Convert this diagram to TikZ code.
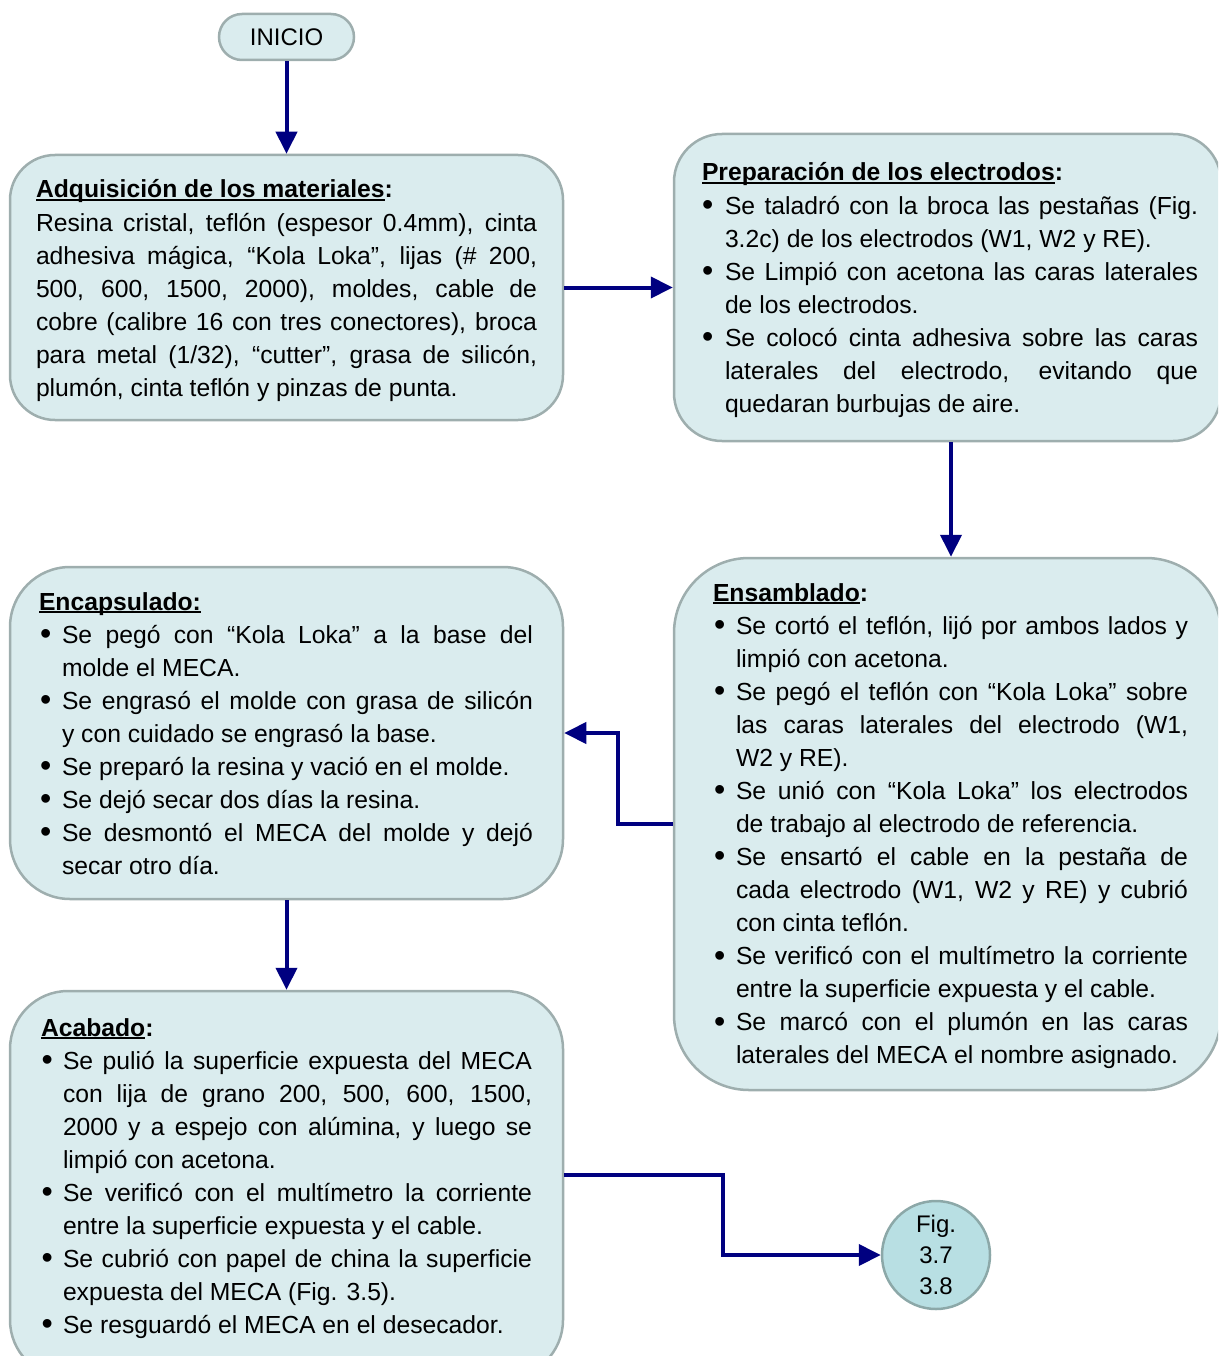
\documentclass[tikz,border=0pt]{standalone}
\usepackage{fontspec}
\usepackage{graphicx}
\setmainfont{Liberation Sans}
\usetikzlibrary{arrows.meta}
\definecolor{boxfill}{RGB}{218,236,238}
\definecolor{boxline}{RGB}{158,174,174}
\definecolor{circfill}{RGB}{184,223,227}
\definecolor{circline}{RGB}{140,168,168}
\definecolor{arrcol}{RGB}{0,0,128}
\newdimen\bxW \newdimen\bxI \newdimen\bxB
\newcommand\bxfont{\fontsize{24.7pt}{33.05pt}\selectfont}
\newcommand\hdul[1]{\setbox0=\hbox{#1}\rlap{\rule[-2.8pt]{\wd0}{1.9pt}}\box0}
\newcommand\bxbul{\raisebox{-1.5pt}{\scalebox{1.3}{\textbullet}}}
\newcommand\kJ[1]{\hbox to\bxW{#1}}
\newcommand\kR[1]{\hbox{#1}}
\newcommand\kBJ[1]{\hbox to\bxW{\hbox to\bxI{\hskip\bxB\bxbul\hss}\hbox to\dimexpr\bxW-\bxI\relax{#1}}}
\newcommand\kBR[1]{\hbox{\hbox to\bxI{\hskip\bxB\bxbul\hss}#1}}
\newcommand\kCJ[1]{\hbox to\bxW{\hskip\bxI\hbox to\dimexpr\bxW-\bxI\relax{#1}}}
\newcommand\kCR[1]{\hbox{\hskip\bxI #1}}
\begin{document}
\begin{tikzpicture}[x=1pt,y=-1pt,
  box/.style={draw=boxline, fill=boxfill, line width=2.5pt, rectangle, inner sep=0pt},
  arr/.style={draw=arrcol, line width=4pt, -{Triangle[length=22pt,width=21pt]}},
  txt/.style={anchor=base west, inner sep=0pt, outer sep=0pt}]
\useasboundingbox (0,0) rectangle (1218,1356);
\clip (0,0) rectangle (1218,1356);

% boxes
\node[box, rounded corners=23pt, minimum width=135pt, minimum height=46pt,
      font=\fontsize{24pt}{28pt}\selectfont] (inicio) at (286.5,37) {INICIO};
\node[box, rounded corners=45pt, minimum width=553pt, minimum height=265pt] (adq) at (286.5,287.5) {};
\node[box, rounded corners=48pt, minimum width=547pt, minimum height=307pt] (prep) at (947.5,287.5) {};
\node[box, rounded corners=75pt, minimum width=547pt, minimum height=532pt] (ens) at (947.5,824) {};
\node[box, rounded corners=60pt, minimum width=553pt, minimum height=332pt] (enc) at (286.5,733) {};
\node[box, rounded corners=58pt, minimum width=553pt, minimum height=387pt] (aca) at (286.5,1184.5) {};
\node[draw=circline, fill=circfill, line width=2.5pt, circle, inner sep=0pt, minimum size=108pt,
      align=center, font=\fontsize{24pt}{31pt}\selectfont] (fig) at (936,1255) {Fig.\\3.7\\3.8};

% texts
\node[txt] (tadq) at (36,198) {\parbox[t]{501pt}{\bxfont\bxW=501pt\relax
\kR{\bfseries\hdul{Adquisición de los materiales}:}
\kJ{Resina cristal, teflón (espesor 0.4mm), cinta}
\kJ{adhesiva mágica, “Kola Loka”, lijas (\# 200,}
\kJ{500, 600, 1500, 2000), moldes, cable de}
\kJ{cobre (calibre 16 con tres conectores), broca}
\kJ{para metal (1/32), “cutter”, grasa de silicón,}
\kR{plumón, cinta teflón y pinzas de punta.}
}};

\node[txt] (tprep) at (702,181) {\parbox[t]{496pt}{\bxfont\bxW=496pt\bxI=23pt\bxB=0pt\relax
\kR{\bfseries\hdul{Preparación de los electrodos}:}
\kBJ{Se taladró con la broca las pestañas (Fig.}
\kCR{3.2c) de los electrodos (W1, W2 y RE).}
\kBJ{Se Limpió con acetona las caras laterales}
\kCR{de los electrodos.}
\kBJ{Se colocó cinta adhesiva sobre las caras}
\kCJ{laterales del electrodo, evitando que}
\kCR{quedaran burbujas de aire.}
}};

\node[txt] (tens) at (713,601) {\parbox[t]{475pt}{\bxfont\bxW=475pt\bxI=23pt\bxB=1pt\relax
\kR{\bfseries\hdul{Ensamblado}:}
\kBJ{Se cortó el teflón, lijó por ambos lados y}
\kCR{limpió con acetona.}
\kBJ{Se pegó el teflón con “Kola Loka” sobre}
\kCJ{las caras laterales del electrodo (W1,}
\kCR{W2 y RE).}
\kBJ{Se unió con “Kola Loka” los electrodos}
\kCR{de trabajo al electrodo de referencia.}
\kBJ{Se ensartó el cable en la pestaña de}
\kCJ{cada electrodo (W1, W2 y RE) y cubrió}
\kCR{con cinta teflón.}
\kBJ{Se verificó con el multímetro la corriente}
\kCR{entre la superficie expuesta y el cable.}
\kBJ{Se marcó con el plumón en las caras}
\kCR{laterales del MECA el nombre asignado.}
}};

\node[txt] (tenc) at (39,610) {\parbox[t]{494pt}{\bxfont\bxW=494pt\bxI=23pt\bxB=1pt\relax
\kR{\bfseries\hdul{Encapsulado:}}
\kBJ{Se pegó con “Kola Loka” a la base del}
\kCR{molde el MECA.}
\kBJ{Se engrasó el molde con grasa de silicón}
\kCR{y con cuidado se engrasó la base.}
\kBR{Se preparó la resina y vació en el molde.}
\kBR{Se dejó secar dos días la resina.}
\kBJ{Se desmontó el MECA del molde y dejó}
\kCR{secar otro día.}
}};

\node[txt] (taca) at (41,1036) {\parbox[t]{491pt}{\bxfont\bxW=491pt\bxI=22pt\bxB=0.5pt\relax
\kR{\bfseries\hdul{Acabado}:}
\kBJ{Se pulió la superficie expuesta del MECA}
\kCJ{con lija de grano 200, 500, 600, 1500,}
\kCJ{2000 y a espejo con alúmina, y luego se}
\kCR{limpió con acetona.}
\kBJ{Se verificó con el multímetro la corriente}
\kCR{entre la superficie expuesta y el cable.}
\kBJ{Se cubrió con papel de china la superficie}
\kCR{expuesta del MECA (Fig. 3.5).}
\kBR{Se resguardó el MECA en el desecador.}
}};

% connectors
\draw[arr] (inicio.south) -- (adq.north);
\draw[arr] (adq.east) -- (prep.west);
\draw[arr] ([xshift=3.5pt]prep.south) -- ([xshift=3.5pt]ens.north);
\draw[arr] (ens.west) -- ++(-55,0) |- (enc.east);
\draw[arr] (enc.south) -- (aca.north);
\draw[arr] ([yshift=9.5pt]aca.east) -- ++(159,0) |- (fig.west);
\end{tikzpicture}
\end{document}
